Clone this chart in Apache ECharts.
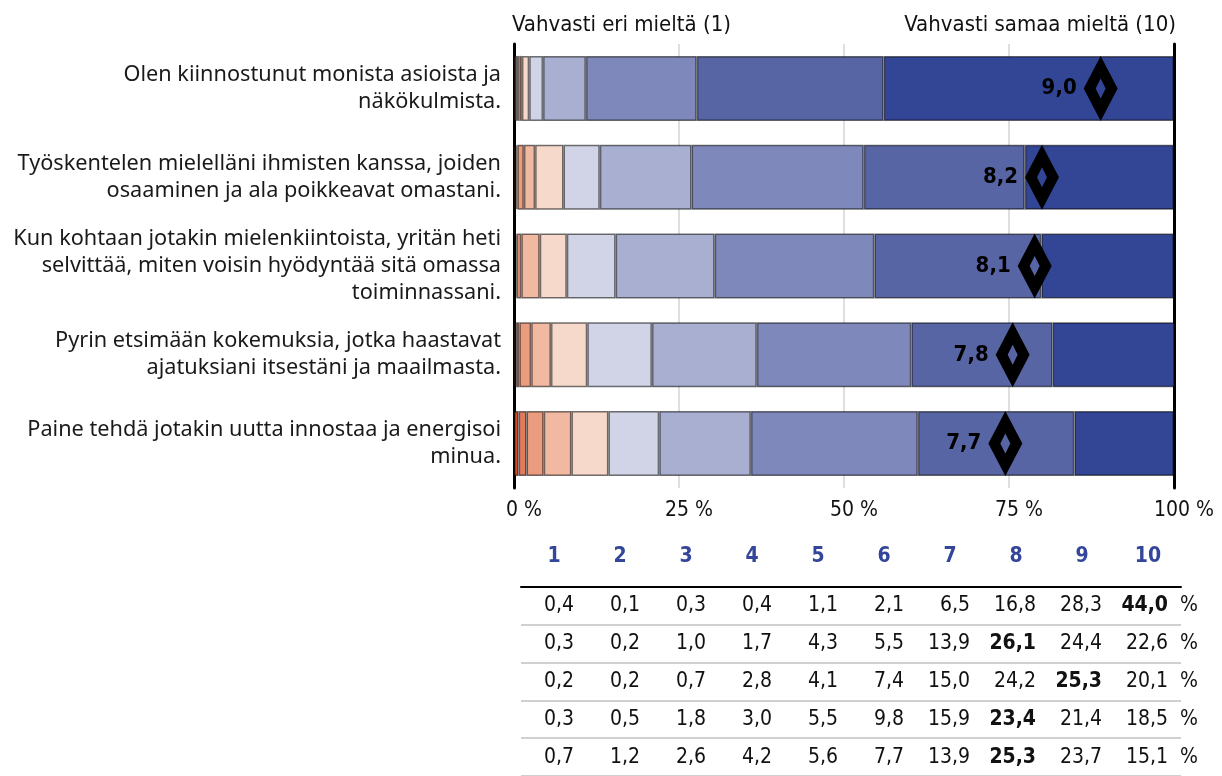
<!DOCTYPE html>
<html>
<head>
<meta charset="utf-8">
<script src="https://cdn.jsdelivr.net/npm/echarts@6/dist/echarts.min.js"></script>
<style>
  html, body { margin: 0; padding: 0; background: #fff; }
  #chart { width: 1222px; height: 776px; }
</style>
</head>
<body>
<div id="chart"></div>
<script>
// väittämät
const categories = [
  'Olen kiinnostunut monista asioista ja\nnäkökulmista.',
  'Työskentelen mielelläni ihmisten kanssa, joiden\nosaaminen ja ala poikkeavat omastani.',
  'Kun kohtaan jotakin mielenkiintoista, yritän heti\nselvittää, miten voisin hyödyntää sitä omassa\ntoiminnassani.',
  'Pyrin etsimään kokemuksia, jotka haastavat\najatuksiani itsestäni ja maailmasta.',
  'Paine tehdä jotakin uutta innostaa ja energisoi\nminua.'
]
const levels = ['1', '2', '3', '4', '5', '6', '7', '8', '9', '10']
// osuudet % (rivi = väittämä, sarake = vastaus 1..10)
const shares = [
  [0.4, 0.1, 0.3, 0.4, 1.1, 2.1, 6.5, 16.8, 28.3, 44.0],
  [0.3, 0.2, 1.0, 1.7, 4.3, 5.5, 13.9, 26.1, 24.4, 22.6],
  [0.2, 0.2, 0.7, 2.8, 4.1, 7.4, 15.0, 24.2, 25.3, 20.1],
  [0.3, 0.5, 1.8, 3.0, 5.5, 9.8, 15.9, 23.4, 21.4, 18.5],
  [0.7, 1.2, 2.6, 4.2, 5.6, 7.7, 13.9, 25.3, 23.7, 15.1]
]
// keskiarvot asteikolla 1-10
const means = [9.0, 8.2, 8.1, 7.8, 7.7]
const axisTicks = [0, 25, 50, 75, 100]
const rowIds = ['r1', 'r2', 'r3', 'r4', 'r5']

const colors = ['#d9492b', '#e27a5c', '#eb9c7e', '#f1b8a2', '#f6d9cb',
  '#d0d4e6', '#a8afd1', '#7f88bb', '#5865a5', '#334595']
const narrow = "'DejaVu Sans Condensed', Roboto, sans-serif"
const fmt = v => v.toFixed(1).replace('.', ',')
const diamond = 'path://M17,0 L34,32.5 L17,65 L0,32.5 Z M17,22.5 L12,32.5 L17,42.5 L22,32.5 Z'

const myChart = echarts.init(document.getElementById('chart'))

const barSeries = levels.map((lvl, i) => ({
  name: lvl,
  type: 'bar',
  stack: 'total',
  barWidth: 65,
  xAxisIndex: 0,
  yAxisIndex: 0,
  itemStyle: {
    color: colors[i],
    borderColor: 'rgba(0,0,0,0.55)',
    borderWidth: 1.5
  },
  data: shares.map(row => row[i])
}))

const tableData = []
shares.forEach((row, r) => {
  const max = Math.max(...row)
  row.forEach((v, c) => {
    tableData.push({
      value: [levels[c], rowIds[r], v],
      label: { fontWeight: v === max ? 'bold' : 'normal' }
    })
  })
})

myChart.setOption({
  animation: false,
  graphic: [
    { type: 'text', left: 512, top: 14, style: { text: 'Vahvasti eri mieltä (1)', fontSize: 22, fontFamily: narrow, fill: '#111' } },
    { type: 'text', right: 46, top: 14, style: { text: 'Vahvasti samaa mieltä (10)', fontSize: 22, fontFamily: narrow, fill: '#111' } }
  ],
  grid: [
    { left: 514, width: 660, top: 44, height: 444 },
    { left: 521, width: 660, top: 587, height: 190 }
  ],
  xAxis: [
    {
      type: 'value', gridIndex: 0, min: 0, max: 100, interval: 25,
      axisLine: { show: false }, axisTick: { show: false },
      splitLine: { lineStyle: { color: '#d4d4d4', width: 1.5 } },
      axisLabel: {
        formatter: '{value} %', fontSize: 21, fontFamily: narrow, color: '#111',
        margin: 12, padding: [0, 0, 0, 20]
      }
    },
    {
      type: 'category', gridIndex: 1, position: 'top', data: levels,
      axisLine: { lineStyle: { color: '#000', width: 2 } }, axisTick: { show: false },
      axisLabel: { fontSize: 21, fontWeight: 'bold', fontFamily: narrow, color: '#34469a', margin: 20 }
    }
  ],
  yAxis: [
    {
      type: 'category', gridIndex: 0, inverse: true, data: categories,
      axisLine: { lineStyle: { color: '#000', width: 3 } }, axisTick: { show: false },
      axisLabel: {
        fontSize: 21.7, lineHeight: 27, color: '#1a1a1a', fontFamily: "'Noto Sans', Roboto, sans-serif",
        margin: 13, align: 'right', padding: [8, 0, 0, 0]
      }
    },
    {
      type: 'category', gridIndex: 0, inverse: true, position: 'right', data: categories,
      axisLine: { lineStyle: { color: '#000', width: 3 } }, axisTick: { show: false },
      axisLabel: { show: false }
    },
    {
      type: 'category', gridIndex: 1, inverse: true, data: rowIds,
      axisLine: { show: false }, axisTick: { show: false }, axisLabel: { show: false },
      splitLine: { show: true, lineStyle: { color: '#d0d0d0', width: 2 } }
    }
  ],
  series: [
    ...barSeries,
    {
      type: 'scatter',
      xAxisIndex: 0, yAxisIndex: 0,
      symbol: diamond,
      symbolSize: [34, 65],
      itemStyle: { color: '#000', opacity: 1 },
      label: {
        show: true, position: 'left', distance: 7,
        formatter: p => fmt(means[p.dataIndex]),
        fontSize: 22, fontWeight: 'bold', fontFamily: narrow, color: '#000'
      },
      z: 5,
      data: means.map((m, i) => [(m - 1) / 9 * 100, categories[i]])
    },
    {
      type: 'scatter',
      xAxisIndex: 1, yAxisIndex: 2,
      symbolSize: 1,
      itemStyle: { color: 'rgba(0,0,0,0)', opacity: 1 },
      label: {
        show: true, position: 'inside', align: 'right', offset: [20, 0],
        formatter: p => fmt(p.value[2]),
        fontSize: 21, fontFamily: narrow, color: '#111'
      },
      data: tableData
    },
    {
      type: 'scatter',
      xAxisIndex: 1, yAxisIndex: 2,
      symbolSize: 1,
      itemStyle: { color: 'rgba(0,0,0,0)', opacity: 1 },
      label: {
        show: true, position: 'inside', offset: [41, 0],
        formatter: '%', fontSize: 21, fontFamily: narrow, color: '#111'
      },
      data: rowIds.map(r => [levels[levels.length - 1], r])
    }
  ]
})
</script>
</body>
</html>
